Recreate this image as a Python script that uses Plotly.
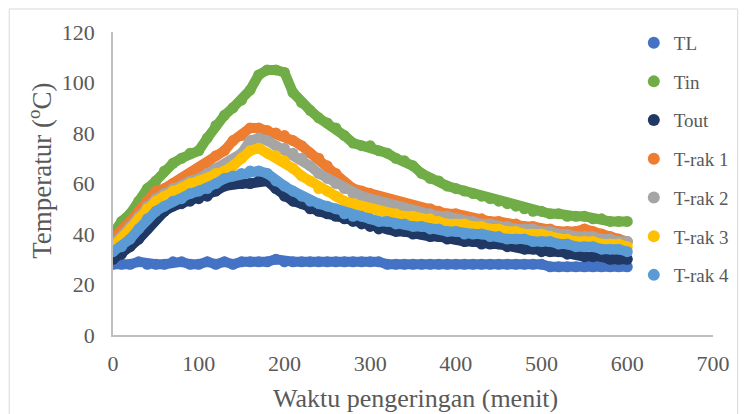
import plotly.graph_objects as go

time_min = list(range(0, 601, 10))

TL = [28, 28, 28, 29, 28, 28, 28, 29, 29, 28, 28, 29, 28, 29, 28, 29, 29, 29, 29, 30,
      29, 29, 29, 29, 29, 29, 29, 29, 29, 29, 29, 29, 28, 28, 28, 28, 28, 28, 28, 28,
      28, 28, 28, 28, 28, 28, 28, 28, 28, 28, 28, 27, 27, 27, 27, 27, 27, 27, 27, 27, 27]
Tin = [40, 45, 48, 53, 58, 61, 65, 68, 70, 72, 73, 78, 83, 87, 90, 93, 97, 103, 105, 105,
       104, 96, 92, 89, 86, 84, 82, 79, 76, 75, 75, 73, 72, 70, 69, 67, 64, 62, 61, 59,
       58, 57, 56, 55, 54, 53, 52, 51, 50, 49, 49, 48, 48, 47, 47, 47, 46, 46, 45, 45, 45]
Tout = [30, 32, 35, 38, 42, 46, 49, 51, 52, 53, 54, 55, 57, 59, 60, 60, 60, 61, 61, 58,
        55, 53, 52, 50, 49, 48, 47, 46, 45, 44, 43, 42, 42, 41, 41, 40, 40, 39, 39, 38,
        38, 37, 37, 36, 36, 36, 35, 35, 34, 34, 33, 33, 33, 32, 32, 31, 31, 31, 30, 30, 30]
Trak1 = [38, 41, 45, 49, 53, 57, 58, 60, 62, 64, 66, 68, 71, 73, 77, 79, 82, 82, 81, 80,
         79, 77, 75, 72, 70, 67, 64, 60, 58, 57, 56, 55, 54, 53, 52, 51, 50, 50, 49, 48,
         48, 47, 46, 46, 45, 45, 44, 44, 43, 43, 42, 42, 41, 41, 41, 42, 41, 40, 39, 38, 37]
Trak2 = [36, 39, 43, 47, 51, 54, 56, 58, 59, 61, 62, 64, 66, 67, 69, 72, 77, 78, 77, 75,
         74, 72, 70, 67, 64, 62, 60, 58, 56, 55, 54, 53, 52, 51, 50, 49, 48, 48, 47, 47,
         46, 45, 45, 44, 44, 43, 43, 42, 42, 42, 41, 41, 40, 40, 39, 39, 39, 38, 38, 37, 37]
Trak3 = [35, 38, 42, 46, 50, 53, 55, 57, 58, 60, 61, 62, 64, 65, 67, 70, 73, 74, 72, 71,
         69, 66, 63, 61, 58, 57, 55, 53, 52, 51, 50, 49, 48, 48, 47, 47, 46, 46, 45, 44,
         44, 44, 43, 43, 42, 42, 41, 41, 40, 40, 40, 39, 38, 38, 37, 37, 37, 36, 36, 36, 35]
Trak4 = [33, 35, 38, 42, 46, 49, 51, 53, 54, 56, 57, 58, 60, 62, 63, 64, 65, 65, 64, 61,
         59, 57, 55, 53, 52, 51, 50, 48, 47, 47, 46, 45, 45, 44, 44, 43, 43, 42, 42, 41,
         41, 40, 40, 40, 39, 39, 38, 38, 38, 37, 37, 37, 36, 36, 35, 35, 35, 34, 34, 34, 33]

series_names = ["TL", "Tin", "Tout", "T-rak 1", "T-rak 2", "T-rak 3", "T-rak 4"]
series_values = [TL, Tin, Tout, Trak1, Trak2, Trak3, Trak4]
series_colors = ["#4472C4", "#70AD47", "#203864", "#ED7D31", "#A5A5A5", "#FFC000", "#5B9BD5"]

x_ticks = [0, 100, 200, 300, 400, 500, 600, 700]
y_ticks = [0, 20, 40, 60, 80, 100, 120]

FONT = "Liberation Serif"
TXT = "#595959"

fig = go.Figure()
for name, vals, col in zip(series_names, series_values, series_colors):
    fig.add_trace(go.Scatter(
        x=time_min, y=vals, mode="lines+markers", name=name,
        line=dict(color=col, width=10), marker=dict(color=col, size=11),
        showlegend=False, hoverinfo="x+y+name"))
for name, col in zip(series_names, series_colors):
    fig.add_trace(go.Scatter(
        x=[None], y=[None], mode="markers", name=name, legendgroup=name,
        marker=dict(color=col, size=12), showlegend=True))

fig.update_layout(
    width=747, height=414,
    margin=dict(l=113, r=27, t=32, b=79),
    paper_bgcolor="white", plot_bgcolor="white",
    font=dict(family=FONT, color=TXT),
    showlegend=True,
    legend=dict(x=0.868, y=1.027, xanchor="left", yanchor="top",
                font=dict(family=FONT, size=19, color=TXT),
                tracegroupgap=11, itemsizing="constant", bgcolor="rgba(0,0,0,0)",
                maxheight=400),
    xaxis=dict(range=[0, 700], tickvals=x_ticks, showgrid=False, zeroline=False,
               showline=True, linecolor="#bfbfbf", linewidth=1.5,
               tickfont=dict(family=FONT, size=22, color=TXT),
               ticks="outside", ticklen=8, tickcolor="rgba(0,0,0,0)"),
    yaxis=dict(range=[0, 120], tickvals=y_ticks, showgrid=False, zeroline=False,
               showline=True, linecolor="#bfbfbf", linewidth=1.5,
               tickfont=dict(family=FONT, size=22, color=TXT),
               ticks="outside", ticklen=12, tickcolor="rgba(0,0,0,0)"),
    shapes=[dict(type="rect", xref="paper", yref="paper",
                 x0=(8 - 113) / 607, x1=(745 - 113) / 607,
                 y0=(335 - 420) / 303, y1=(335 - 9) / 303,
                 line=dict(color="#d9d9d9", width=1), fillcolor="rgba(0,0,0,0)",
                 layer="below")],
    annotations=[
        dict(text="Waktu pengeringan (menit)", xref="paper", yref="paper",
             x=(419 - 113) / 607, y=(335 - 399) / 303, xanchor="center", yanchor="middle",
             showarrow=False, font=dict(family=FONT, size=26, color=TXT)),
        dict(text="Temperatur (<sup>o</sup>C)", xref="paper", yref="paper",
             x=(39 - 113) / 607, y=(335 - 171) / 303, xanchor="center", yanchor="middle",
             textangle=-90, showarrow=False, font=dict(family=FONT, size=27, color=TXT)),
    ],
)

fig.write_html("out.html")
